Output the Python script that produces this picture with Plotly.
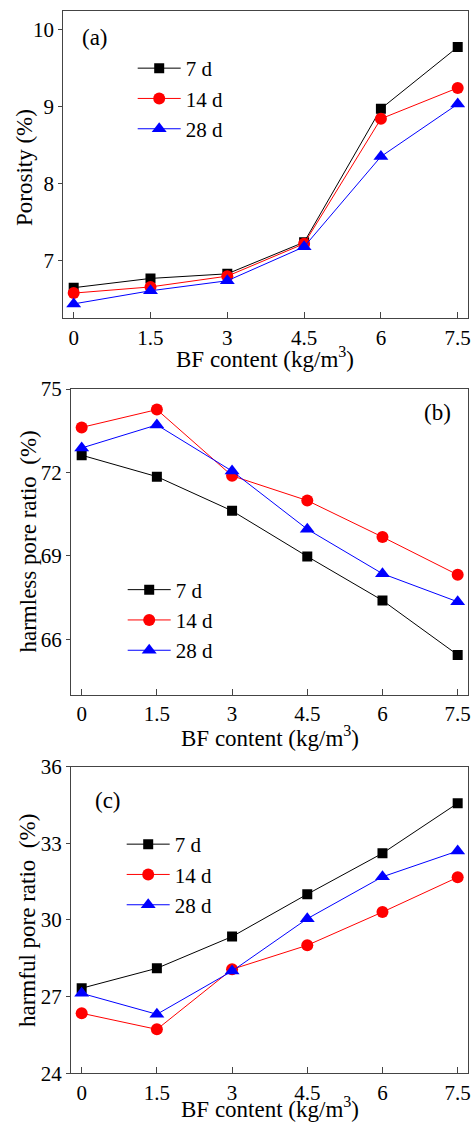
import plotly.graph_objects as go

bf = [0, 1.5, 3, 4.5, 6, 7.5]
tick_text = ["0", "1.5", "3", "4.5", "6", "7.5"]
series_names = ["7 d", "14 d", "28 d"]

porosity_7 = [6.65, 6.77, 6.83, 7.24, 8.97, 9.77]
porosity_14 = [6.58, 6.66, 6.80, 7.22, 8.84, 9.24]
porosity_28 = [6.44, 6.61, 6.74, 7.18, 8.35, 9.03]

harmless_7 = [72.62, 71.85, 70.62, 68.98, 67.40, 65.44]
harmless_14 = [73.62, 74.26, 71.88, 70.99, 69.68, 68.32]
harmless_28 = [72.88, 73.71, 72.05, 69.96, 68.36, 67.35]

harmful_7 = [27.33, 28.11, 29.35, 31.01, 32.61, 34.57]
harmful_14 = [26.35, 25.72, 28.07, 29.01, 30.31, 31.67]
harmful_28 = [27.13, 26.31, 28.00, 30.05, 31.69, 32.70]

colors = ["#000000", "#ff0000", "#0000ff"]
symbols = ["square", "circle", "triangle-up"]
sizes = [10, 12, 13]
FONT = "Liberation Serif"
W, H = 473, 1124

fig = go.Figure()
panels = [
    (["x", "y"], "legend", [porosity_7, porosity_14, porosity_28]),
    (["x2", "y2"], "legend2", [harmless_7, harmless_14, harmless_28]),
    (["x3", "y3"], "legend3", [harmful_7, harmful_14, harmful_28]),
]
for (xa, ya), leg, data in panels:
    for name, vals, c, s, sz in zip(series_names, data, colors, symbols, sizes):
        fig.add_trace(go.Scatter(
            x=bf, y=vals, name=name, xaxis=xa, yaxis=ya, legend=leg,
            mode="lines+markers",
            line=dict(color=c, width=1),
            marker=dict(color=c, symbol=s, size=sz),
        ))

axis_common = dict(
    showline=True, mirror=True, linecolor="#444444", linewidth=1,
    showgrid=False, zeroline=False, automargin=False,
    tickfont=dict(family=FONT, size=21, color="#000"),
)
xcommon = dict(axis_common, tickvals=bf, ticktext=tick_text, ticks="inside",
               ticklen=6, tickcolor="#444444")
ycommon = dict(axis_common, ticks="outside", ticklen=4, tickcolor="#444444")

legend_common = dict(xanchor="left", yanchor="top", bgcolor="rgba(0,0,0,0)",
                     font=dict(family=FONT, size=21), itemwidth=43, tracegroupgap=0)


def txt(text, px, py, angle=0, xanchor="center", yanchor="middle", size=23):
    return dict(text=text, x=px / W, y=1 - py / H, xref="paper", yref="paper",
                xanchor=xanchor, yanchor=yanchor, showarrow=False, textangle=angle,
                font=dict(family=FONT, size=size, color="#000"))


xtitle = "BF content (kg/m<sup>3</sup>)"

fig.update_layout(
    width=W, height=H,
    margin=dict(l=0, r=0, t=0, b=0),
    paper_bgcolor="white", plot_bgcolor="white",
    font=dict(family=FONT, color="#000"),
    xaxis=dict(xcommon, domain=[0.1338, 0.9888], range=[-0.203, 7.695], anchor="y"),
    yaxis=dict(ycommon, domain=[0.7168, 0.9902], range=[6.253, 10.237],
               tickvals=[7, 8, 9, 10], anchor="x"),
    xaxis2=dict(xcommon, domain=[0.1501, 0.9888], range=[-0.213, 7.70], anchor="y2"),
    yaxis2=dict(ycommon, domain=[0.3817, 0.6539], range=[64, 75],
                tickvals=[66, 69, 72, 75], anchor="x2"),
    xaxis3=dict(xcommon, domain=[0.1501, 0.9888], range=[-0.213, 7.70], anchor="y3"),
    yaxis3=dict(ycommon, domain=[0.0451, 0.3179], range=[24, 36],
                tickvals=[24, 27, 30, 33, 36], anchor="x3"),
    legend=dict(legend_common, x=132.7 / W, y=1 - 48 / H),
    legend2=dict(legend_common, x=122.7 / W, y=1 - 569.5 / H),
    legend3=dict(legend_common, x=121.7 / W, y=1 - 824 / H),
    showlegend=True,
    annotations=[
        txt("(a)", 80, 37, xanchor="left"),
        txt("(b)", 453, 413, xanchor="right"),
        txt("(c)", 93, 800, xanchor="left"),
        txt(xtitle, 265, 357),
        txt(xtitle, 270, 736),
        txt(xtitle, 270, 1124, yanchor="bottom"),
        txt("Porosity (%)", 25, 168, angle=-90),
        txt("harmless pore ratio  (%)", 28, 541.5, angle=-90),
        txt("harmful pore ratio  (%)", 27, 921, angle=-90),
    ],
)

fig.write_html("out.html")
